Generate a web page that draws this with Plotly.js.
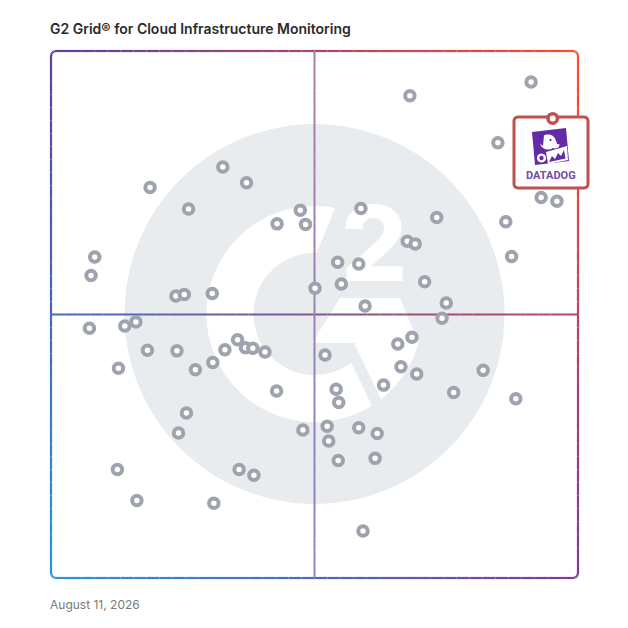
<!DOCTYPE html>
<html>
<head>
<meta charset="utf-8">
<script src="https://cdn.plot.ly/plotly-3.0.1.min.js"></script>
<style>html,body{margin:0;padding:0;background:#fff}#chart{width:628px;height:628px}</style>
</head>
<body>
<div id="chart"></div>
<script>
// ---- Data (G2 Grid scores, 0-100 scale) ----
const satisfaction = [91.1, 68.1, 84.8, 32.6, 37.1, 18.8, 26.1, 47.3, 58.8, 73.2, 86.3, 42.9, 48.3, 93.0, 96.0,
  67.6, 69.1, 8.3, 87.4, 7.6, 54.4, 58.4, 70.9, 55.1, 50.1, 23.7, 25.3, 30.6, 75.0, 59.6, 74.2, 7.3, 14.0, 16.1,
  68.5, 65.8, 35.4, 33.0, 36.9, 38.3, 40.6, 18.3, 23.9, 52.0, 12.8, 27.4, 30.7, 66.4, 69.4, 82.0, 63.1, 42.8,
  54.1, 54.6, 76.4, 88.2, 25.7, 47.8, 24.2, 52.4, 58.4, 61.9, 52.7, 54.5, 61.5, 12.6, 35.7, 38.5, 16.3, 30.9, 59.2];
const marketPresence = [94.1, 91.5, 82.6, 78.0, 75.0, 74.1, 70.0, 69.8, 70.1, 68.4, 67.6, 67.2, 67.1, 72.2, 71.5,
  63.9, 63.4, 60.9, 61.0, 57.4, 59.9, 59.6, 56.2, 55.8, 55.0, 53.5, 53.8, 54.0, 52.2, 51.6, 49.3, 47.4, 47.8, 48.6,
  45.7, 44.4, 45.2, 43.3, 43.7, 43.6, 42.9, 43.2, 43.1, 42.3, 39.8, 39.5, 40.9, 40.1, 38.7, 39.4, 36.6, 35.5,
  35.8, 33.3, 35.2, 34.0, 31.3, 28.1, 27.5, 28.8, 28.5, 27.4, 26.0, 22.3, 22.7, 20.6, 20.6, 19.5, 14.7, 14.2, 8.9];
const highlightName = ['DATADOG'];
const highlightSatisfaction = [95.2];
const highlightMarketPresence = [87.2];
const titleText = 'G2 Grid® for Cloud Infrastructure Monitoring';
const dateText = 'August 11, 2026';

// ---- Decoration helpers (pixel -> paper) ----
const L = 51, T = 51, W = 527, H = 527;
const X = px => (px - L) / W;
const Y = py => (T + H - py) / H;
function pathFrom(pts, close) {
  return 'M' + pts.map(p => X(p[0]).toFixed(5) + ',' + Y(p[1]).toFixed(5)).join('L') + (close ? 'Z' : '');
}
function arcPts(cx, cy, r, a0, a1, n, ry) {
  const pts = [];
  const r2 = ry === undefined ? r : ry;
  for (let i = 0; i <= n; i++) {
    const a = (a0 + (a1 - a0) * i / n) * Math.PI / 180;
    pts.push([cx + r * Math.cos(a), cy - r2 * Math.sin(a)]);
  }
  return pts;
}
function hex(c) { return [parseInt(c.substr(1,2),16), parseInt(c.substr(3,2),16), parseInt(c.substr(5,2),16)]; }
function mix(a, b, t) { return a.map((v, i) => v + (b[i] - v) * t); }
function rgb(c) { return 'rgb(' + c.map(v => Math.round(v)).join(',') + ')'; }
const cTL = hex('#5b3fa7'), cTR = hex('#ff4b2b'), cBL = hex('#2a95d6'), cBR = hex('#7b3a9e');
function gradAt(px, py) {
  const u = Math.min(1, Math.max(0, (px - L) / W)), v = Math.min(1, Math.max(0, (py - T) / H));
  return mix(mix(cTL, cTR, u), mix(cBL, cBR, u), v);
}
function poly(pts, fill, line) {
  return {type: 'path', xref: 'paper', yref: 'paper', layer: 'below', path: pathFrom(pts, true),
    fillcolor: fill, line: line || {width: 0}};
}

const shapes = [];
// Watermark G2 logo
const cx = 314.5, cy = 314;
shapes.push({type: 'circle', xref: 'paper', yref: 'paper', layer: 'below',
  x0: X(cx - 190), x1: X(cx + 190), y0: Y(cy + 190), y1: Y(cy - 190),
  fillcolor: '#e9ecef', line: {width: 0}});
shapes.push(poly(arcPts(cx, cy, 108, 79, 302, 90).concat(arcPts(cx, cy, 61, 307, 88, 60)), '#ffffff'));
shapes.push(poly([[312, 343], [340, 298], [400, 298]].concat(arcPts(cx, cy, 108, -15.6, -52, 20)).concat([[354, 343]]), '#ffffff'));

// Gradient frame with rounded corners
const r = 5, x0 = L, x1 = L + W, y0 = T, y1 = T + H;
function seg(a, b, n) { const p = []; for (let i = 0; i <= n; i++) p.push([a[0] + (b[0] - a[0]) * i / n, a[1] + (b[1] - a[1]) * i / n]); return p; }
let frame = [];
frame = frame.concat(seg([x0 + r, y0], [x1 - r, y0], 40));
frame = frame.concat(arcPts(x1 - r, y0 + r, r, 90, 0, 6).slice(1));
frame = frame.concat(seg([x1, y0 + r], [x1, y1 - r], 40).slice(1));
frame = frame.concat(arcPts(x1 - r, y1 - r, r, 0, -90, 6).slice(1));
frame = frame.concat(seg([x1 - r, y1], [x0 + r, y1], 40).slice(1));
frame = frame.concat(arcPts(x0 + r, y1 - r, r, -90, -180, 6).slice(1));
frame = frame.concat(seg([x0, y1 - r], [x0, y0 + r], 40).slice(1));
frame = frame.concat(arcPts(x0 + r, y0 + r, r, 180, 90, 6).slice(1));
for (let i = 0; i < frame.length - 1; i++) {
  const a = frame[i], b = frame[i + 1];
  shapes.push({type: 'line', xref: 'paper', yref: 'paper', layer: 'below',
    x0: X(a[0]), y0: Y(a[1]), x1: X(b[0]), y1: Y(b[1]),
    line: {color: rgb(gradAt((a[0] + b[0]) / 2, (a[1] + b[1]) / 2)), width: 2.2}});
}
// Quadrant dividers
const mid = 314.5;
const hPts = seg([x0, mid], [x1, mid], 40);
for (let i = 0; i < hPts.length - 1; i++) {
  const a = hPts[i], b = hPts[i + 1];
  shapes.push({type: 'line', xref: 'paper', yref: 'paper', layer: 'below',
    x0: X(a[0]), y0: Y(a[1]), x1: X(b[0]), y1: Y(b[1]),
    line: {color: rgb(gradAt((a[0] + b[0]) / 2, mid)), width: 2}});
}
const vTop = hex('#b07aa6'), vBot = hex('#8686c8');
const vPts = seg([mid, y0], [mid, y1], 40);
for (let i = 0; i < vPts.length - 1; i++) {
  const a = vPts[i], b = vPts[i + 1];
  shapes.push({type: 'line', xref: 'paper', yref: 'paper', layer: 'below',
    x0: X(a[0]), y0: Y(a[1]), x1: X(b[0]), y1: Y(b[1]),
    line: {color: rgb(mix(vTop, vBot, ((a[1] + b[1]) / 2 - y0) / H)), width: 2}});
}

// Highlight card (Datadog)
const bx0 = 514, bx1 = 588, by0 = 117, by1 = 188, br = 4;
let card = [];
card = card.concat(arcPts(bx1 - br, by0 + br, br, 90, 0, 6));
card = card.concat(arcPts(bx1 - br, by1 - br, br, 0, -90, 6));
card = card.concat(arcPts(bx0 + br, by1 - br, br, -90, -180, 6));
card = card.concat(arcPts(bx0 + br, by0 + br, br, 180, 90, 6));
shapes.push(poly(card, '#ffffff', {color: '#c1514f', width: 3}));
const purple = '#632ca6';
// icon background
shapes.push(poly([[532, 132], [566, 128], [569, 161], [535, 165]], purple));
// dog head (white) with muzzle
shapes.push(poly(arcPts(548, 142, 8, 0, 360, 30, 7.5), '#ffffff'));
shapes.push(poly(arcPts(555, 145, 4.5, 0, 360, 20, 3.5), '#ffffff'));
// ear (purple on white)
shapes.push(poly([[539, 136], [544, 135.5], [543, 146], [539.5, 143]], purple));
// eye & nose
shapes.push(poly(arcPts(550.5, 140, 1.1, 0, 360, 10), purple));
shapes.push(poly(arcPts(558, 143, 1.4, 0, 360, 10), purple));
// body / paw
shapes.push(poly(arcPts(541.5, 158, 4.5, 0, 360, 20), '#ffffff'));
shapes.push(poly(arcPts(541.5, 158, 2.2, 0, 360, 12), purple));
// chart card
shapes.push(poly([[546, 152], [567, 146], [568, 160], [548, 164]], '#ffffff'));
shapes.push(poly([[549, 162], [552, 156], [555, 159], [558, 153], [561, 156], [564, 150], [565.5, 158.5]], purple));

const traces = [
  {type: 'scatter', mode: 'text', x: [61.3], y: [61.2], text: ['2'],
   textfont: {family: 'Inter, sans-serif', size: 104, color: '#ffffff', weight: 800},
   hoverinfo: 'skip', showlegend: false, cliponaxis: false},
  {type: 'scatter', mode: 'markers', x: satisfaction, y: marketPresence, name: 'Products',
   marker: {size: 9.5, color: '#ffffff', line: {color: '#9ea3ae', width: 4}},
   showlegend: false, cliponaxis: false},
  {type: 'scatter', mode: 'markers', x: highlightSatisfaction, y: highlightMarketPresence, name: highlightName[0],
   marker: {size: 9.5, color: '#ffffff', line: {color: '#c1514f', width: 3.5}},
   showlegend: false, cliponaxis: false}
];

const layout = {
  width: 628, height: 628,
  margin: {l: L, r: 628 - L - W, t: T, b: 628 - T - H, pad: 0},
  paper_bgcolor: '#ffffff', plot_bgcolor: 'rgba(0,0,0,0)',
  title: {text: titleText, xref: 'container', yref: 'container', x: 50 / 628, xanchor: 'left',
          y: 1 - 29 / 628, yanchor: 'middle',
          font: {family: 'Inter, sans-serif', size: 14, color: '#2a2a2a', weight: 600}},
  xaxis: {range: [0, 100], visible: false, showgrid: false, zeroline: false, fixedrange: true},
  yaxis: {range: [0, 100], visible: false, showgrid: false, zeroline: false, fixedrange: true},
  shapes: shapes,
  annotations: [
    {xref: 'paper', yref: 'paper', x: X(48), y: Y(604), xanchor: 'left', yanchor: 'middle', showarrow: false,
     text: dateText, font: {family: 'Inter, sans-serif', size: 12, color: '#7a7a7a'}},
    {xref: 'paper', yref: 'paper', x: X(551), y: Y(175), xanchor: 'center', yanchor: 'middle', showarrow: false,
     text: highlightName[0], font: {family: 'Roboto, sans-serif', size: 11, color: '#774aa4', weight: 700}}
  ],
  showlegend: false
};
Plotly.newPlot('chart', traces, layout, {staticPlot: true, displayModeBar: false});
</script>
</body>
</html>
